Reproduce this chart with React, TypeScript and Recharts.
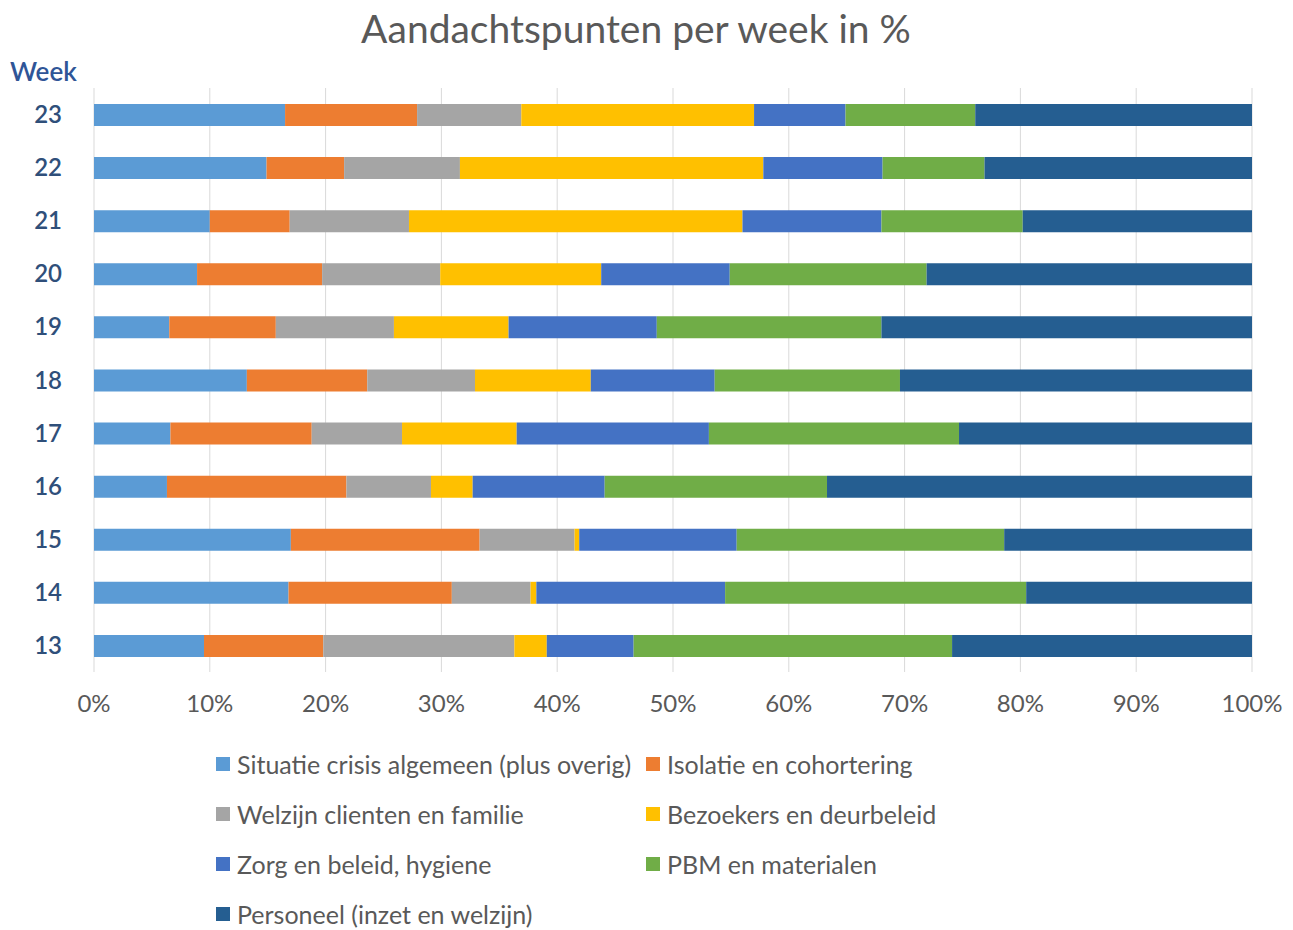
import React from 'react'
import { BarChart, Bar, XAxis, YAxis, CartesianGrid, Legend } from 'recharts'

// weeks top to bottom, as in the picture
const weeks = ['23', '22', '21', '20', '19', '18', '17', '16', '15', '14', '13']

const situatie = [16.5, 14.9, 10.0, 8.9, 6.5, 13.2, 6.6, 6.3, 17.0, 16.8, 9.5]
const isolatie = [11.4, 6.7, 6.9, 10.8, 9.2, 10.4, 12.2, 15.5, 16.3, 14.1, 10.3]
const welzijn = [9.0, 10.0, 10.3, 10.2, 10.2, 9.3, 7.8, 7.3, 8.2, 6.8, 16.5]
const bezoekers = [20.1, 26.2, 28.8, 13.9, 9.9, 10.0, 9.9, 3.6, 0.4, 0.5, 2.8]
const zorg = [7.9, 10.3, 12.0, 11.1, 12.8, 10.7, 16.6, 11.4, 13.6, 16.3, 7.5]
const pbm = [11.2, 8.8, 12.2, 17.0, 19.4, 16.0, 21.6, 19.2, 23.1, 26.0, 27.5]
const personeel = [23.9, 23.1, 19.8, 28.1, 32.0, 30.4, 25.3, 36.7, 21.4, 19.5, 25.9]

const xTicks = [0, 10, 20, 30, 40, 50, 60, 70, 80, 90, 100]

const series = [
    { key: 'situatie', name: 'Situatie crisis algemeen (plus overig)', color: '#5b9bd5', values: situatie },
    { key: 'isolatie', name: 'Isolatie en cohortering', color: '#ed7d31', values: isolatie },
    { key: 'welzijn', name: 'Welzijn clienten en familie', color: '#a5a5a5', values: welzijn },
    { key: 'bezoekers', name: 'Bezoekers en deurbeleid', color: '#ffc000', values: bezoekers },
    { key: 'zorg', name: 'Zorg en beleid, hygiene', color: '#4472c4', values: zorg },
    { key: 'pbm', name: 'PBM en materialen', color: '#70ad47', values: pbm },
    { key: 'personeel', name: 'Personeel (inzet en welzijn)', color: '#255e91', values: personeel },
]

const data = weeks.map((week, i) => {
    const row: Record<string, string | number> = { week }
    series.forEach(s => { row[s.key] = s.values[i] })
    return row
})

const FONT = 'Lato, "Open Sans", sans-serif'

function LegendBox() {
    return (
        <div style={{ display: 'grid', gridTemplateColumns: '430px 420px' }}>
            {series.map(s => (
                <div key={s.key} style={{ display: 'flex', alignItems: 'center', height: 50, fontFamily: FONT, fontSize: 25, color: '#595959', whiteSpace: 'nowrap' }}>
                    <span style={{ display: 'inline-block', width: 14, height: 14, background: s.color, marginRight: 7 }} />
                    {s.name}
                </div>
            ))}
        </div>
    )
}

export default function App() {
    return (
        <div style={{ position: 'relative', width: 1280, height: 922, fontFamily: FONT }}>
            <div style={{ position: 'absolute', top: -2, left: 0, width: 1256, textAlign: 'center', fontSize: 39, color: '#595959', lineHeight: '44px' }}>
                Aandachtspunten per week in %
            </div>
            <div style={{ position: 'absolute', top: 47, left: 2, fontSize: 26, fontWeight: 600, color: '#2f5597' }}>
                Week
            </div>
            <BarChart
                width={1280}
                height={922}
                data={data}
                layout="vertical"
                barSize={22}
                margin={{ top: 80, right: 36, left: 0, bottom: 228 }}
            >
                <CartesianGrid horizontal={false} stroke="#d9d9d9" />
                <XAxis
                    type="number"
                    domain={[0, 100]}
                    ticks={xTicks}
                    tickFormatter={(v: number) => `${v}%`}
                    axisLine={false}
                    tickLine={false}
                    tickSize={0}
                    tickMargin={23}
                    tick={{ fill: '#595959', fontSize: 24, fontFamily: FONT }}
                    interval={0}
                />
                <YAxis
                    type="category"
                    dataKey="week"
                    width={86}
                    axisLine={false}
                    tickLine={false}
                    tickSize={0}
                    tickMargin={32}
                    tick={{ fill: '#2f4f7a', fontSize: 24, fontWeight: 600, fontFamily: FONT }}
                    interval={0}
                />
                <Legend
                    layout="horizontal"
                    verticalAlign="middle"
                    align="center"
                    wrapperStyle={{ top: 731, left: 208, width: 860 }}
                    content={() => <LegendBox />}
                />
                {series.map(s => (
                    <Bar key={s.key} dataKey={s.key} name={s.name} stackId="a" fill={s.color} isAnimationActive={false} />
                ))}
            </BarChart>
        </div>
    )
}
